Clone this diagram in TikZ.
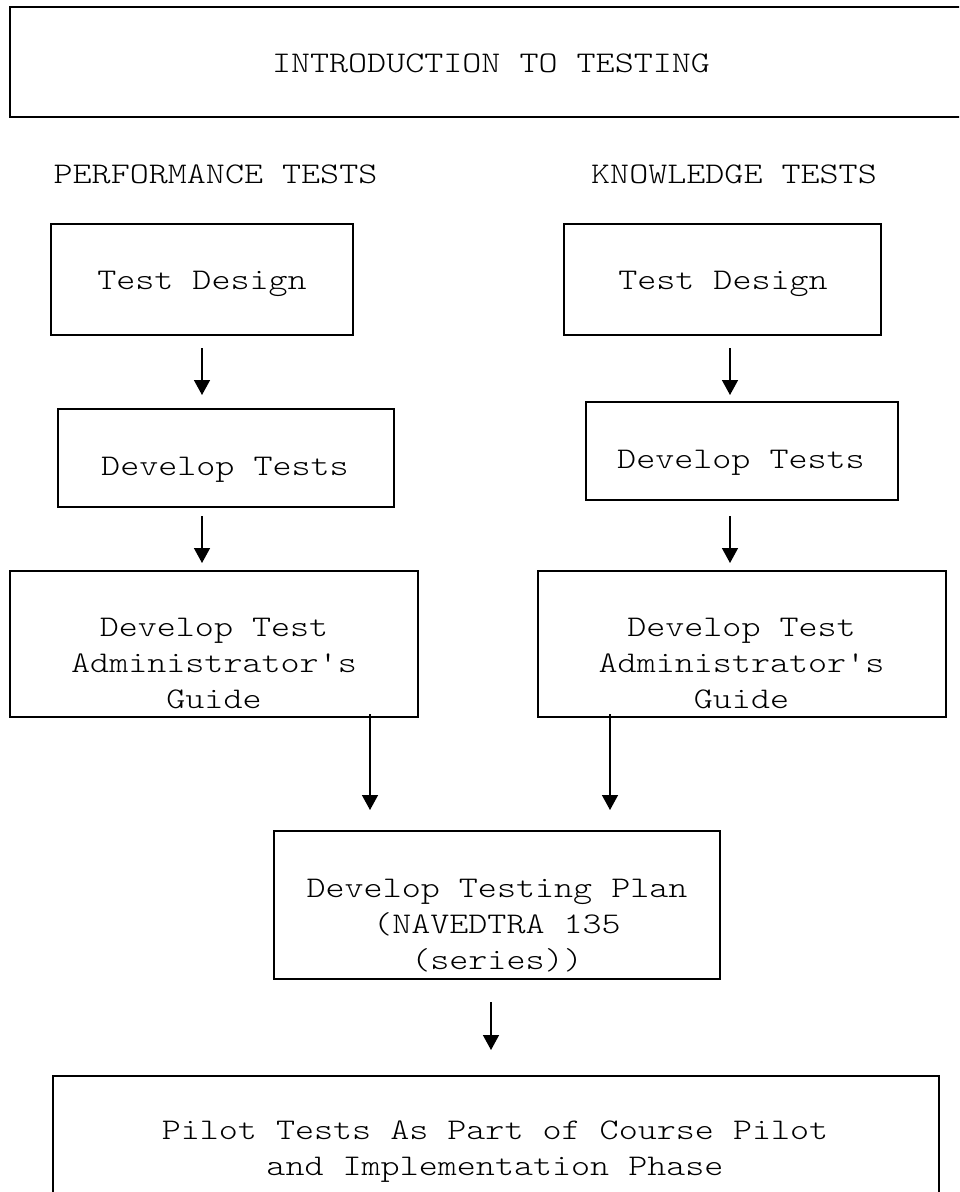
\documentclass[tikz,border=0pt]{standalone}
\usepackage{fontspec}
\newfontfamily\courfont{lmmonolt10-regular}[Extension=.otf, FakeStretch=1.209]
\usetikzlibrary{arrows.meta}
\tikzset{
  box/.style={draw=black, line width=2.2pt, inner sep=0pt, outer sep=0pt, fill=none},
  txt/.style={font=\courfont\fontsize{30pt}{36pt}\selectfont, align=center, inner sep=0pt, anchor=base, text=black},
  arr/.style={line width=1.5pt, -{Triangle[length=15pt,width=16pt]}}
}
\begin{document}
\begin{tikzpicture}[x=1pt,y=-1pt]
\useasboundingbox (0,0) rectangle (959,1192);
\fill[white] (0,0) rectangle (959,1192);
\clip (0,0) rectangle (959,1192);
% boxes
\node[box, minimum width=970pt, minimum height=110pt] (intro) at (495,62) {};
\node[box, minimum width=302pt, minimum height=111pt] (td1) at (202,279.5) {};
\node[box, minimum width=317pt, minimum height=111pt] (td2) at (722.5,279.5) {};
\node[box, minimum width=336pt, minimum height=98pt] (dt1) at (226,458) {};
\node[box, minimum width=312pt, minimum height=98pt] (dt2) at (742,451) {};
\node[box, minimum width=408pt, minimum height=146pt] (ag1) at (214,644) {};
\node[box, minimum width=408pt, minimum height=146pt] (ag2) at (742,644) {};
\node[box, minimum width=446pt, minimum height=148pt] (plan) at (497,905) {};
\node[box, minimum width=886pt, minimum height=164pt] (pilot) at (496,1158) {};
% texts (multi-line nodes: base = baseline of last line)
\node[txt] (tintro) at (491,72) {INTRODUCTION TO TESTING};
\node[txt] (tperf) at (215.5,183) {PERFORMANCE TESTS};
\node[txt] (tknow) at (734,183) {KNOWLEDGE TESTS};
\node[txt] (ttd1) at (202,289) {Test Design};
\node[txt] (ttd2) at (723,289) {Test Design};
\node[txt] (tdt1) at (225,475) {Develop Tests};
\node[txt] (tdt2) at (741,468) {Develop Tests};
\node[txt] (tag1) at (214,708) {Develop Test\\Administrator's\\Guide};
\node[txt] (tag2) at (741.5,708) {Develop Test\\Administrator's\\Guide};
\node[txt] (tplan) at (497,969) {Develop Testing Plan\\(NAVEDTRA 135\\(series))};
\node[txt] (tpilot) at (495,1175) {Pilot Tests As Part of Course Pilot\\and Implementation Phase};
% connectors
\draw[arr, shorten <=13pt, shorten >=14pt] (td1.south) -- (td1.south |- dt1.north);
\draw[arr, shorten <=13pt, shorten >=7pt] (td2.south -| 730,0) -- (dt2.north -| 730,0);
\draw[arr, shorten <=9pt, shorten >=8pt] (dt1.south -| 202,0) -- (ag1.north -| 202,0);
\draw[arr, shorten <=16pt, shorten >=8pt] (dt2.south -| 730,0) -- (ag2.north -| 730,0);
\draw[arr, shorten <=-3pt, shorten >=21pt] (ag1.south -| 370,0) -- (plan.north -| 370,0);
\draw[arr, shorten <=-3pt, shorten >=21pt] (ag2.south -| 610,0) -- (plan.north -| 610,0);
\draw[arr, shorten <=23pt, shorten >=26pt] (plan.south -| 491,0) -- (pilot.north -| 491,0);
\end{tikzpicture}
\end{document}
